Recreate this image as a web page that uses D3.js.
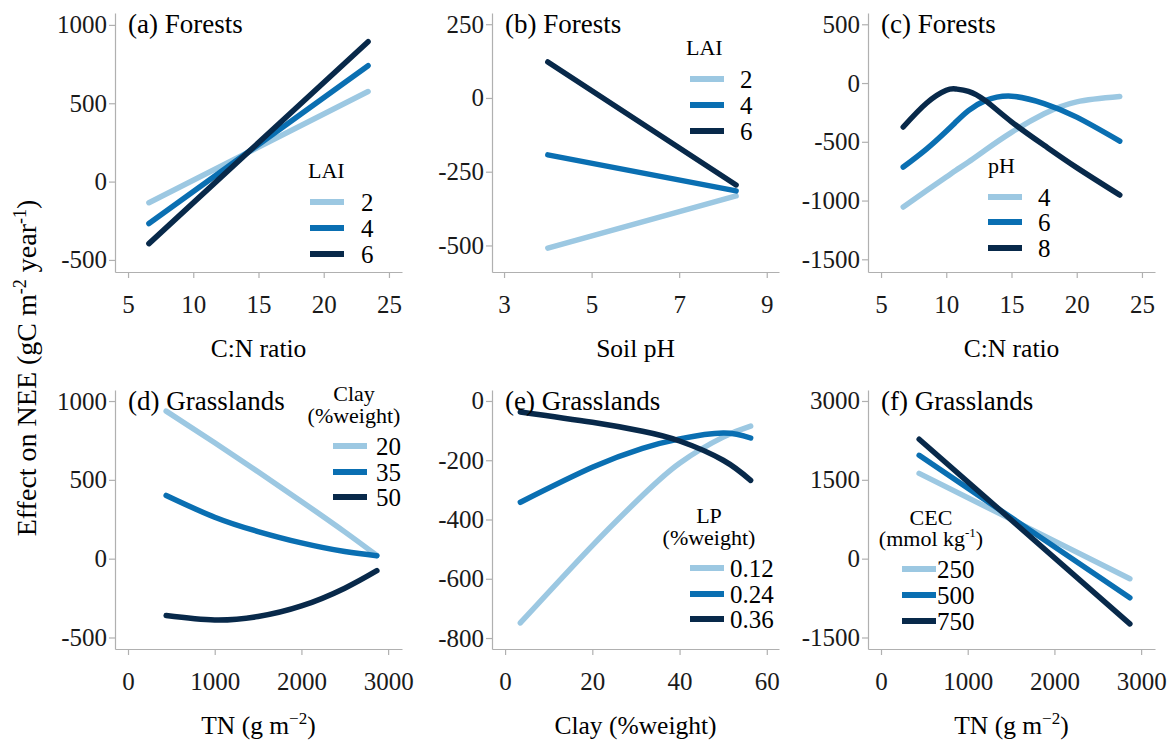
<!DOCTYPE html>
<html lang="en">
<head>
  <meta charset="UTF-8">
  <title>Effect on NEE</title>
  <script src="https://d3js.org/d3.v7.min.js"></script>
  <style>
    body { margin: 0; background: #fff; }
    svg { font-family: 'Liberation Serif', 'Times New Roman', serif; }
    .axis path, .axis line { stroke: #b0b0b0; stroke-width: 1.2; }
    .axis text { fill: #1a1a1a; font-size: 25px; font-family: 'Liberation Serif', 'Times New Roman', serif; }
  </style>
</head>
<body>
  <div id="chart"></div>
  <script>
    // Data
    // (a) Forests: C:N ratio, by LAI
    const aX = [6.6, 23.4];
    const aLAI2 = [-135, 575];
    const aLAI4 = [-268, 740];
    const aLAI6 = [-396, 893];

    // (b) Forests: soil pH, by LAI
    const bX = [4.0, 8.3];
    const bLAI2 = [-509, -332];
    const bLAI4 = [-193, -315];
    const bLAI6 = [122, -295];

    // (c) Forests: C:N ratio, by pH
    const cX = [6.7, 8.5, 10, 10.75, 11.7, 13, 15, 17.5, 20, 23.3];
    const cPH4 = [-1055, -915, -800, -742, -672, -570, -420, -262, -160, -115];
    const cPH6 = [-715, -560, -410, -330, -235, -150, -112, -175, -290, -494];
    const cPH8 = [-374, -170, -62, -51, -70, -150, -330, -530, -720, -953];

    // (d) Grasslands: TN, by clay
    const dX = [440, 1000, 1500, 2000, 2500, 2870];
    const dClay20 = [936, 735, 551, 363, 170, 20];
    const dClay35 = [401, 263, 172, 100, 45, 19];
    const dClay50 = [-361, -389, -367, -300, -187, -76];

    // (e) Grasslands: clay, by LP
    const eX = [3.5, 20, 31.5, 40, 50, 56.3];
    const eLP12 = [-749, -488, -319, -210, -122, -85];
    const eLP24 = [-342, -224, -160, -128, -108, -125];
    const eLP36 = [-37, -72, -102, -135, -200, -268];

    // (f) Grasslands: TN, by CEC
    const fX = [440, 2870];
    const fCEC250 = [1623, -382];
    const fCEC500 = [1967, -745];
    const fCEC750 = [2273, -1241];

    const colors = ["#9cc8e2", "#0a6fb2", "#08294a"];

    const panels = [
      { title: "(a) Forests", xLabel: "C:N ratio", x: aX, series: [aLAI2, aLAI4, aLAI6],
        xDomain: [4.0, 26.0], yDomain: [-577, 1076], xTicks: [5, 10, 15, 20, 25], yTicks: [-500, 0, 500, 1000],
        legTitle: ["LAI"], legKeys: ["2", "4", "6"] },
      { title: "(b) Forests", xLabel: "Soil pH", x: bX, series: [bLAI2, bLAI4, bLAI6],
        xDomain: [2.725, 9.28], yDomain: [-590, 288], xTicks: [3, 5, 7, 9], yTicks: [-500, -250, 0, 250],
        legTitle: ["LAI"], legKeys: ["2", "4", "6"] },
      { title: "(c) Forests", xLabel: "C:N ratio", x: cX, series: [cPH4, cPH6, cPH8],
        xDomain: [4.0, 26.0], yDomain: [-1608, 596], xTicks: [5, 10, 15, 20, 25], yTicks: [-1500, -1000, -500, 0, 500],
        legTitle: ["pH"], legKeys: ["4", "6", "8"] },
      { title: "(d) Grasslands", xLabel: "TN", x: dX, series: [dClay20, dClay35, dClay50],
        xDomain: [-150, 3160], yDomain: [-573, 1070], xTicks: [0, 1000, 2000, 3000], yTicks: [-500, 0, 500, 1000],
        legTitle: ["Clay", "(%weight)"], legKeys: ["20", "35", "50"] },
      { title: "(e) Grasslands", xLabel: "Clay (%weight)", x: eX, series: [eLP12, eLP24, eLP36],
        xDomain: [-3.0, 62.8], yDomain: [-837, 37], xTicks: [0, 20, 40, 60], yTicks: [-800, -600, -400, -200, 0],
        legTitle: ["LP", "(%weight)"], legKeys: ["0.12", "0.24", "0.36"] },
      { title: "(f) Grasslands", xLabel: "TN", x: fX, series: [fCEC250, fCEC500, fCEC750],
        xDomain: [-150, 3160], yDomain: [-1719, 3209], xTicks: [0, 1000, 2000, 3000], yTicks: [-1500, 0, 1500, 3000],
        legTitle: ["CEC", "(mmol kg-1)"], legKeys: ["250", "500", "750"] }
    ];

    // panel boxes and legend placement
    const lefts = [115, 492, 868, 115, 492, 868];
    const tops = [13, 13, 13, 390, 390, 390];
    const pw = 287, ph = 259;
    const legends = [
      { tx: 308, ty: [178], anchor: "start", kx: 310, ky: [202, 228, 254], lx: 361 },
      { tx: 686, ty: [55], anchor: "start", kx: 690, ky: [79, 105, 131], lx: 740 },
      { tx: 988, ty: [173], anchor: "start", kx: 988, ky: [197, 222, 248], lx: 1038 },
      { tx: 354, ty: [401, 423], anchor: "middle", kx: 333, ky: [446, 472, 497], lx: 376 },
      { tx: 709, ty: [523, 545], anchor: "middle", kx: 690, ky: [568, 594, 619], lx: 730 },
      { tx: 931, ty: [525, 546], anchor: "middle", kx: 902, ky: [569, 595, 621], lx: 937 }
    ];

    const width = 1173, height = 741;
    const svg = d3.select("#chart").append("svg")
      .attr("width", width)
      .attr("height", height);

    panels.forEach(function (p, i) {
      const left = lefts[i], top = tops[i];
      const x = d3.scaleLinear().domain(p.xDomain).range([left, left + pw]);
      const y = d3.scaleLinear().domain(p.yDomain).range([top + ph, top]);

      // axes
      svg.append("g").attr("class", "axis")
        .attr("transform", "translate(0," + (top + ph) + ")")
        .call(d3.axisBottom(x).tickValues(p.xTicks).tickFormat(function (d) { return String(d); })
          .tickSize(6).tickPadding(17).tickSizeOuter(0))
        .attr("font-family", null).attr("font-size", null);
      svg.append("g").attr("class", "axis")
        .attr("transform", "translate(" + left + ",0)")
        .call(d3.axisLeft(y).tickValues(p.yTicks).tickFormat(function (d) { return String(d); })
          .tickSize(6).tickPadding(2).tickSizeOuter(0))
        .attr("font-family", null).attr("font-size", null);

      // lines
      const line = d3.line()
        .x(function (d, j) { return x(p.x[j]); })
        .y(function (d) { return y(d); })
        .curve(d3.curveNatural);
      p.series.forEach(function (s, k) {
        svg.append("path")
          .datum(s)
          .attr("d", line)
          .attr("fill", "none")
          .attr("stroke", colors[k])
          .attr("stroke-width", 5.5)
          .attr("stroke-linecap", "round")
          .attr("stroke-linejoin", "round");
      });

      // panel title
      svg.append("text")
        .attr("x", left + 13)
        .attr("y", top + 20)
        .style("font-size", "27px")
        .text(p.title);

      // x axis title
      const xt = svg.append("text")
        .attr("x", left + pw / 2)
        .attr("y", top + ph + 85)
        .attr("text-anchor", "middle")
        .style("font-size", "25.5px");
      if (p.xLabel === "TN") {
        xt.append("tspan").text("TN (g m");
        xt.append("tspan").attr("dy", -10).style("font-size", "17px").text("\u22122");
        xt.append("tspan").attr("dy", 10).text(")");
      } else {
        xt.text(p.xLabel);
      }

      // legend
      const lg = legends[i];
      p.legTitle.forEach(function (t, r) {
        const tt = svg.append("text")
          .attr("x", lg.tx)
          .attr("y", lg.ty[r])
          .attr("text-anchor", lg.anchor)
          .style("font-size", "22px");
        if (t === "(mmol kg-1)") {
          tt.append("tspan").text("(mmol kg");
          tt.append("tspan").attr("dy", -9).style("font-size", "13px").text("-1");
          tt.append("tspan").attr("dy", 9).text(")");
        } else {
          tt.text(t);
        }
      });
      p.legKeys.forEach(function (kname, k) {
        svg.append("line")
          .attr("x1", lg.kx).attr("x2", lg.kx + 34)
          .attr("y1", lg.ky[k]).attr("y2", lg.ky[k])
          .attr("stroke", colors[k])
          .attr("stroke-width", 6);
        svg.append("text")
          .attr("x", lg.lx)
          .attr("y", lg.ky[k])
          .attr("dy", "0.35em")
          .style("font-size", "25px")
          .text(kname);
      });
    });

    // shared y axis title
    const yt = svg.append("text")
      .attr("transform", "translate(36,368) rotate(-90)")
      .attr("text-anchor", "middle")
      .style("font-size", "28px");
    yt.append("tspan").text("Effect on NEE (gC m");
    yt.append("tspan").attr("dy", -10).style("font-size", "18px").text("-2");
    yt.append("tspan").attr("dy", 10).text(" year");
    yt.append("tspan").attr("dy", -10).style("font-size", "18px").text("-1");
    yt.append("tspan").attr("dy", 10).text(")");
  </script>
</body>
</html>
